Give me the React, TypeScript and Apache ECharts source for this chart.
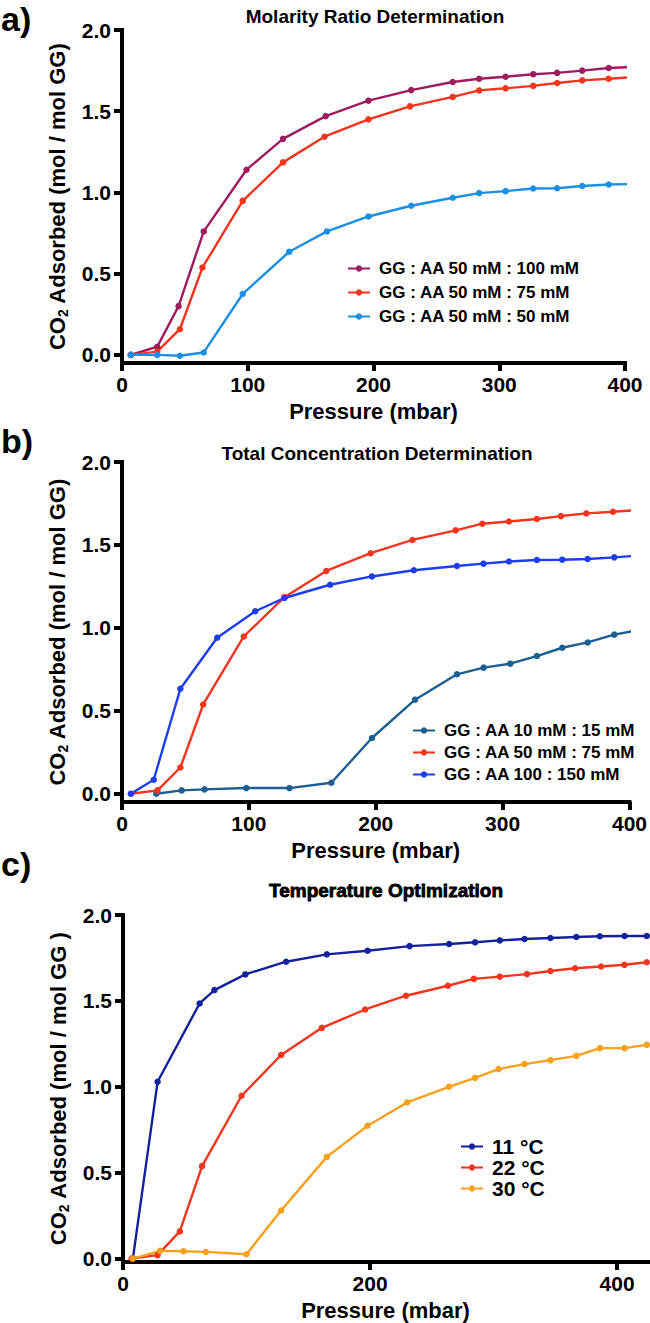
import React, { useEffect, useRef } from "react";
import * as echarts from "echarts";

// ---------- data (pressure in mbar, CO2 adsorbed in mol / mol GG) ----------
// Panel a) Molarity Ratio Determination
const pressureA100 = [7, 28, 45, 65, 99, 128, 162, 196, 230, 263, 284, 305, 327, 346, 366, 387, 406];
const adsA100 = [0.0, 0.05, 0.3, 0.76, 1.14, 1.33, 1.47, 1.565, 1.63, 1.68, 1.7, 1.712, 1.728, 1.736, 1.75, 1.766, 1.772];

// GG : AA 50 mM : 75 mM (also 22 °C)
const pressure75 = [7, 28, 46, 64, 96, 128, 161, 196, 229, 263, 284, 305, 327, 346, 366, 387, 406, 424];
const ads75 = [0.0, 0.02, 0.158, 0.538, 0.948, 1.185, 1.343, 1.45, 1.53, 1.588, 1.628, 1.641, 1.656, 1.674, 1.69, 1.7, 1.71, 1.725];

const pressureA50 = [7, 28, 46, 65, 96, 133, 163, 196, 230, 263, 284, 305, 327, 346, 366, 387, 406];
const adsA50 = [0.0, 0.0, -0.005, 0.015, 0.375, 0.635, 0.76, 0.852, 0.918, 0.967, 0.996, 1.008, 1.024, 1.026, 1.04, 1.049, 1.052];

// Panel b) Total Concentration Determination
const pressureB10 = [27, 47, 65, 98, 132, 165, 197, 231, 264, 285, 306, 327, 347, 367, 388, 406];
const adsB10 = [0.0, 0.02, 0.026, 0.034, 0.034, 0.066, 0.336, 0.567, 0.72, 0.76, 0.784, 0.83, 0.88, 0.912, 0.959, 0.985];

const pressureB100 = [7, 25, 46, 75, 105, 128, 164, 197, 230, 264, 285, 305, 327, 347, 367, 388, 406];
const adsB100 = [0.0, 0.084, 0.633, 0.94, 1.1, 1.18, 1.26, 1.31, 1.347, 1.373, 1.387, 1.4, 1.409, 1.411, 1.415, 1.425, 1.435];

// Panel c) Temperature Optimization
const pressureC11 = [8, 28, 62, 74, 99, 132, 165, 198, 232, 264, 285, 305, 325, 346, 367, 386, 406, 424];
const adsC11 = [0.0, 1.029, 1.485, 1.563, 1.654, 1.728, 1.771, 1.792, 1.819, 1.831, 1.841, 1.852, 1.86, 1.866, 1.872, 1.876, 1.878, 1.878];

const pressureC30 = [8, 30, 49, 67, 100, 128, 165, 198, 230, 264, 285, 304, 325, 346, 367, 386, 406, 424];
const adsC30 = [0.0, 0.045, 0.043, 0.039, 0.025, 0.28, 0.592, 0.773, 0.909, 1.0, 1.052, 1.103, 1.132, 1.155, 1.18, 1.225, 1.225, 1.244];

// ticks
const yTicks = [0, 0.5, 1.0, 1.5, 2.0];
const xTicksC = [0, 200, 400];

const titles = ["Molarity Ratio Determination", "Total Concentration Determination", "Temperature Optimization"];
const panelLetters = ["a)", "b)", "c)"];
const namesA = ["GG : AA 50 mM : 100 mM", "GG : AA 50 mM : 75 mM", "GG : AA 50 mM : 50 mM"];
const namesB = ["GG : AA 10 mM : 15 mM", "GG : AA 50 mM : 75 mM", "GG : AA 100 : 150 mM"];
const namesC = ["11 °C", "22 °C", "30 °C"];

const FONT = "'Liberation Sans', Arial, Helvetica, sans-serif";
const C_PURPLE = "#9E1C5E";
const C_RED = "#F4351E";
const C_LBLUE = "#1C8FE2";
const C_TEAL = "#1C5E92";
const C_BLUE = "#1E3CF0";
const C_NAVY = "#15219A";
const C_ORANGE = "#F9A11C";

const zip = (xs: number[], ys: number[]) => xs.map((x, i) => [x, ys[i]]);

function makeSeries(name: string, color: string, xs: number[], ys: number[], idx: number) {
  return {
    type: "line",
    name,
    xAxisIndex: idx,
    yAxisIndex: idx,
    data: zip(xs, ys),
    symbol: "circle",
    symbolSize: 6.5,
    clip: true,
    lineStyle: { color, width: 2.4 },
    itemStyle: { color },
    emphasis: { disabled: true },
  };
}

function yAxisDef(idx: number, min: number, closing: string) {
  return {
    type: "value",
    gridIndex: idx,
    min,
    max: 2,
    name: "{n|CO}{s|2}{n| Adsorbed (mol / mol GG" + closing + ")}",
    nameLocation: "middle",
    nameRotate: 90,
    nameGap: 52,
    nameTextStyle: {
      rich: {
        n: { fontFamily: FONT, fontWeight: "bold", fontSize: 22, color: "#000", lineHeight: 26 },
        s: { fontFamily: FONT, fontWeight: "bold", fontSize: 14, color: "#000", lineHeight: 14, verticalAlign: "bottom" },
      },
    },
    axisLine: { show: true, onZero: false, lineStyle: { color: "#000", width: 4, cap: "square" } },
    axisTick: { show: true, length: 8, customValues: yTicks, lineStyle: { color: "#000", width: 4 } },
    axisLabel: {
      customValues: yTicks,
      formatter: (v: number) => v.toFixed(1),
      fontFamily: FONT,
      fontWeight: "bold",
      fontSize: 21,
      color: "#000",
      margin: 11,
    },
    splitLine: { show: false },
  };
}

function xAxisDef(idx: number, max: number, ticks: number[] | null) {
  const ax: any = {
    type: "value",
    gridIndex: idx,
    min: 0,
    max,
    name: "Pressure (mbar)",
    nameLocation: "middle",
    nameGap: 37,
    nameTextStyle: { fontFamily: FONT, fontWeight: "bold", fontSize: 22, color: "#000" },
    axisLine: { show: true, onZero: false, lineStyle: { color: "#000", width: 4, cap: "square" } },
    axisTick: { show: true, length: 8, lineStyle: { color: "#000", width: 4 } },
    axisLabel: { fontFamily: FONT, fontWeight: "bold", fontSize: 21, color: "#000", margin: 11 },
    splitLine: { show: false },
  };
  if (ticks) {
    ax.axisTick.customValues = ticks;
    ax.axisLabel.customValues = ticks;
  } else {
    ax.interval = 100;
  }
  return ax;
}

function legendDef(names: string[], left: number, top: number, fontSize: number, gap: number, lh: number) {
  return {
    orient: "vertical",
    left,
    top,
    data: names,
    itemWidth: 22,
    itemHeight: 8,
    itemGap: gap,
    selectedMode: false,
    textStyle: { fontFamily: FONT, fontWeight: "bold", fontSize, color: "#000", lineHeight: lh, padding: [0, 0, 0, 4] },
  };
}

export default function App() {
  const ref = useRef<HTMLDivElement>(null);
  useEffect(() => {
    document.body.style.margin = "0";
    if (!ref.current) return;
    const chart = echarts.init(ref.current, undefined, { renderer: "svg" });
    const titleStyle = (x: number, y: number, text: string, heavy: boolean) => ({
      type: "text",
      x,
      y,
      style: {
        text,
        fontFamily: FONT,
        fontWeight: "bold",
        fontSize: 19,
        fill: "#000",
        align: "center",
        verticalAlign: "middle",
        stroke: heavy ? "#000" : undefined,
        lineWidth: heavy ? 0.8 : 0,
      },
    });
    const letter = (y: number, text: string) => ({
      type: "text",
      x: 1,
      y,
      style: { text, fontFamily: FONT, fontWeight: "bold", fontSize: 34, fill: "#000", align: "left", verticalAlign: "middle" },
    });
    const option: any = {
      animation: false,
      backgroundColor: "#fff",
      grid: [
        { left: 122, top: 30, width: 503, height: 333 },
        { left: 122, top: 462, width: 510, height: 340 },
        { left: 123, top: 915, width: 525, height: 347 },
      ],
      xAxis: [xAxisDef(0, 400, null), xAxisDef(1, 400, null), xAxisDef(2, 425, xTicksC)],
      yAxis: [yAxisDef(0, -0.05, ""), yAxisDef(1, -0.05, ""), yAxisDef(2, -0.02, " ")],
      legend: [
        legendDef(namesA, 342, 255, 17, 7, 17),
        legendDef(namesB, 407, 717, 17, 5, 17),
        legendDef(namesC, 455, 1131, 21, 0, 21),
      ],
      series: [
        makeSeries(namesA[0], C_PURPLE, pressureA100, adsA100, 0),
        makeSeries(namesA[1], C_RED, pressure75, ads75, 0),
        makeSeries(namesA[2], C_LBLUE, pressureA50, adsA50, 0),
        makeSeries(namesB[0], C_TEAL, pressureB10, adsB10, 1),
        makeSeries(namesB[1], C_RED, pressure75, ads75, 1),
        makeSeries(namesB[2], C_BLUE, pressureB100, adsB100, 1),
        makeSeries(namesC[0], C_NAVY, pressureC11, adsC11, 2),
        makeSeries(namesC[1], C_RED, pressure75, ads75, 2),
        makeSeries(namesC[2], C_ORANGE, pressureC30, adsC30, 2),
      ],
      graphic: [
        letter(19, panelLetters[0]),
        letter(441, panelLetters[1]),
        letter(864, panelLetters[2]),
        titleStyle(375, 16, titles[0], false),
        titleStyle(377, 453, titles[1], false),
        titleStyle(386, 890, titles[2], true),
      ],
    };
    chart.setOption(option);
    return () => chart.dispose();
  }, []);
  return <div ref={ref} style={{ position: "absolute", left: 0, top: 0, width: 650, height: 1323 }} />;
}
